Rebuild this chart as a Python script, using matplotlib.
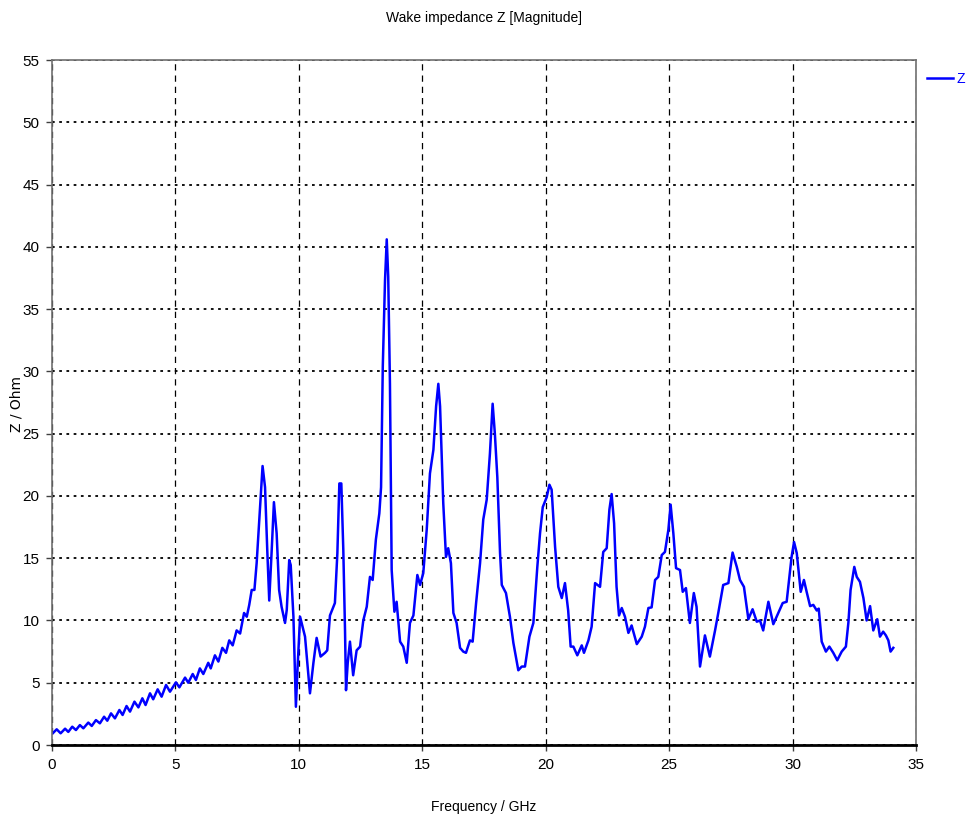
import matplotlib
matplotlib.use("Agg")
import matplotlib.pyplot as plt
import numpy as np

# Wake impedance magnitude versus frequency
freq_ghz = [
    0.03, 0.19, 0.35, 0.53, 0.66, 0.82, 0.97, 1.13, 1.27, 1.47, 1.61, 1.78,
    1.94, 2.11, 2.24, 2.39, 2.55, 2.73, 2.86, 3.02, 3.16, 3.34, 3.5, 3.66,
    3.79, 3.97, 4.1, 4.28, 4.44, 4.62, 4.78, 5.02, 5.16, 5.39, 5.52, 5.7,
    5.83, 5.99, 6.13, 6.33, 6.43, 6.6, 6.74, 6.9, 7.05, 7.18, 7.32, 7.48,
    7.62, 7.78, 7.89, 7.99, 8.09, 8.2, 8.29, 8.43, 8.53, 8.63, 8.72, 8.8,
    8.9, 8.99, 9.1, 9.2, 9.3, 9.44, 9.51, 9.61, 9.67, 9.78, 9.88, 9.95,
    10.05, 10.25, 10.45, 10.59, 10.72, 10.88, 11.06, 11.15, 11.26, 11.4, 11.46, 11.56,
    11.64, 11.72, 11.8, 11.87, 11.91, 11.98, 12.07, 12.2, 12.34, 12.48, 12.61, 12.75,
    12.88, 12.99, 13.12, 13.26, 13.33, 13.4, 13.49, 13.56, 13.62, 13.69, 13.76, 13.87,
    13.96, 14.1, 14.23, 14.37, 14.5, 14.64, 14.8, 14.91, 15.04, 15.18, 15.31, 15.45,
    15.56, 15.65, 15.72, 15.85, 15.96, 16.05, 16.16, 16.26, 16.39, 16.53, 16.66, 16.77,
    16.93, 17.04, 17.18, 17.34, 17.47, 17.61, 17.74, 17.85, 17.94, 18.04, 18.15, 18.22,
    18.39, 18.55, 18.69, 18.89, 19.03, 19.16, 19.34, 19.5, 19.66, 19.77, 19.88, 20.04,
    20.15, 20.24, 20.38, 20.51, 20.65, 20.78, 20.91, 21.01, 21.12, 21.28, 21.46, 21.55,
    21.73, 21.86, 22.0, 22.2, 22.33, 22.47, 22.58, 22.67, 22.77, 22.87, 22.97, 23.08,
    23.21, 23.35, 23.48, 23.69, 23.89, 24.02, 24.16, 24.29, 24.43, 24.56, 24.7, 24.83,
    24.97, 25.06, 25.17, 25.28, 25.44, 25.55, 25.68, 25.84, 26.0, 26.11, 26.25, 26.45,
    26.65, 26.86, 26.99, 27.19, 27.4, 27.57, 27.74, 27.87, 28.03, 28.21, 28.38, 28.55,
    28.68, 28.81, 29.02, 29.22, 29.42, 29.6, 29.76, 29.96, 30.06, 30.17, 30.33, 30.46,
    30.57, 30.71, 30.84, 30.98, 31.06, 31.18, 31.35, 31.49, 31.65, 31.81, 31.99, 32.16,
    32.26, 32.35, 32.5, 32.6, 32.73, 32.87, 33.0, 33.14, 33.27, 33.43, 33.54, 33.67,
    33.78, 33.88, 33.97, 34.08,
]
z_ohm = [
    0.94, 1.26, 0.94, 1.31, 1.05, 1.47, 1.2, 1.6, 1.34, 1.8, 1.53, 2.0,
    1.74, 2.27, 1.95, 2.54, 2.14, 2.81, 2.41, 3.13, 2.68, 3.48, 3.02, 3.75,
    3.21, 4.15, 3.67, 4.47, 3.88, 4.82, 4.28, 5.03, 4.63, 5.41, 5.0, 5.7,
    5.22, 6.15, 5.7, 6.6, 6.15, 7.2, 6.7, 7.8, 7.4, 8.4, 8.0, 9.2,
    8.95, 10.6, 10.3, 11.25, 12.45, 12.45, 14.6, 19.1, 22.4, 20.7, 15.65, 11.6,
    15.65, 19.5, 17.0, 12.45, 11.1, 9.8, 10.85, 14.85, 14.45, 10.3, 3.07, 6.3,
    10.3, 8.7, 4.15, 6.6, 8.6, 7.1, 7.4, 7.6, 10.4, 11.1, 11.4, 15.4,
    21.0, 21.0, 15.7, 9.2, 4.4, 6.6, 8.3, 5.6, 7.6, 7.9, 10.0, 11.1,
    13.5, 13.25, 16.5, 18.6, 20.7, 30.4, 37.3, 40.6, 37.6, 29.0, 14.05, 10.7,
    11.5, 8.3, 7.9, 6.6, 9.8, 10.4, 13.65, 12.85, 13.8, 17.3, 21.8, 23.7,
    27.2, 29.0, 27.2, 19.4, 15.1, 15.8, 14.6, 10.6, 9.8, 7.8, 7.5, 7.4,
    8.4, 8.3, 11.4, 14.6, 18.1, 19.7, 23.4, 27.4, 25.0, 21.5, 15.4, 12.85,
    12.2, 10.3, 8.2, 6.0, 6.3, 6.3, 8.7, 9.8, 14.3, 17.0, 19.1, 19.9,
    20.9, 20.5, 15.9, 12.7, 11.8, 13.0, 10.8, 7.9, 7.9, 7.2, 8.0, 7.4,
    8.4, 9.5, 13.0, 12.7, 15.5, 15.8, 18.9, 20.15, 17.8, 12.7, 10.4, 11.0,
    10.3, 9.0, 9.6, 8.1, 8.7, 9.5, 11.0, 11.05, 13.25, 13.5, 15.25, 15.5,
    17.3, 19.3, 17.0, 14.2, 14.05, 12.3, 12.6, 9.8, 12.2, 11.1, 6.3, 8.8,
    7.1, 9.2, 10.6, 12.85, 13.0, 15.45, 14.3, 13.25, 12.7, 10.1, 10.9, 9.9,
    10.0, 9.2, 11.5, 9.7, 10.6, 11.4, 11.5, 15.1, 16.3, 15.4, 12.3, 13.25,
    12.3, 11.15, 11.25, 10.8, 10.95, 8.3, 7.5, 7.9, 7.4, 6.8, 7.5, 7.9,
    9.8, 12.45, 14.3, 13.5, 13.1, 11.8, 10.0, 11.15, 9.2, 10.1, 8.7, 9.1,
    8.8, 8.4, 7.5, 7.8,
]

x_ticks = np.arange(0, 36, 5)
y_ticks = np.arange(0, 56, 5)

narrow = ["Liberation Sans", "DejaVu Sans"]

W, H = 968, 821
fig = plt.figure(figsize=(W / 100, H / 100), dpi=100)
ax = fig.add_axes([52 / W, 76 / H, 864 / W, 685 / H])

line, = ax.plot(freq_ghz, z_ohm, color="#0000ff", lw=1.8, label="Z")

ax.set_xlim(0, 35)
ax.set_ylim(0, 55)
ax.set_xticks(x_ticks)
ax.set_yticks(y_ticks)
ax.tick_params(direction="out", length=4, width=1, color="#404040", pad=5)
for lbl in ax.get_xticklabels() + ax.get_yticklabels():
    lbl.set_family(narrow)
    lbl.set_fontsize(11)

# vertical grid dashed, horizontal grid dotted
ax.xaxis.grid(True, color="black", lw=0.9, linestyle=(0, (5, 4)))
ax.yaxis.grid(True, color="black", lw=1.3, linestyle=(0, (1.5, 2.5)))
ax.set_axisbelow(True)

for side in ["top", "left", "right"]:
    ax.spines[side].set_color("#707070")
    ax.spines[side].set_linewidth(1.2)
ax.spines["bottom"].set_color("black")
ax.spines["bottom"].set_linewidth(2)

fig.text(0.5, 1 - 18 / H, "Wake impedance Z [Magnitude]", ha="center", va="center",
         family=narrow, fontsize=10)
ax.set_xlabel("Frequency / GHz", family=narrow, fontsize=10)
ax.xaxis.set_label_coords(432 / 864, -0.08)
ax.set_ylabel("Z / Ohm", family="DejaVu Sans", fontsize=10)
ax.yaxis.set_label_coords(-0.033, 0.498)

fig.legend(handles=[line], loc="upper left", bbox_to_anchor=(927 / W, 1 - 72 / H),
           frameon=False, borderpad=0, borderaxespad=0, handlelength=1.9,
           handletextpad=0.2, labelcolor="#0000ff", prop={"family": narrow, "size": 10})

fig.savefig("out.png", dpi=100)
